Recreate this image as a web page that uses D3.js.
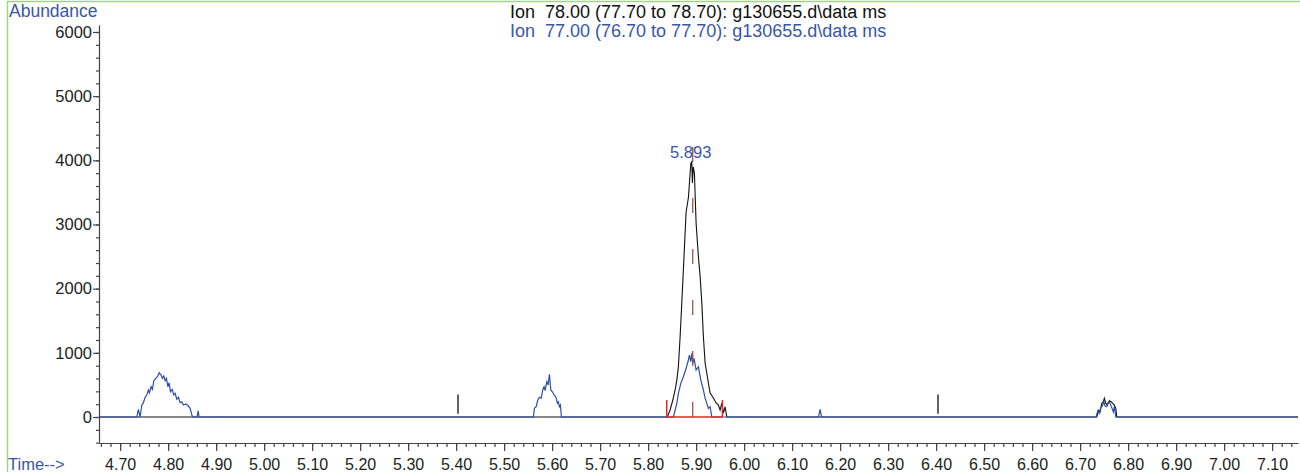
<!DOCTYPE html>
<html lang="en">
<head>
    <meta charset="UTF-8">
    <title>Ion chromatogram</title>
    <script src="https://d3js.org/d3.v7.min.js"></script>
    <style>
        body { margin: 0; background: #fff; }
        svg { font-family: "Liberation Sans", Arial, sans-serif; }
        .axis path, .axis line { stroke: #444; stroke-width: 1.2; }
        .axis text { fill: #222; }
    </style>
</head>
<body>
    <div id="chart"></div>
    <script>
        // Ion 78 (black trace)
        const ion78Time = [4.656, 5.840, 5.8458, 5.8515, 5.8563, 5.8598, 5.8631, 5.8667, 5.8702, 5.8735,
            5.8792, 5.8840, 5.8890, 5.8910, 5.8923, 5.8940, 5.8965, 5.9000, 5.9048, 5.9083,
            5.9119, 5.9152, 5.9188, 5.9256, 5.9292, 5.9360, 5.9417, 5.9465, 5.9500, 5.9535,
            5.9569, 5.9604, 5.9640,
            6.7348, 6.7381, 6.7417, 6.7452, 6.7485, 6.7506, 6.7535, 6.7569, 6.7610, 6.7646,
            6.7681, 6.7715, 6.7744, 6.7765, 7.154];
        const ion78Abund = [0, 0, 109, 265, 421, 576, 784, 1251, 1776, 2290,
            3199, 3420, 3953, 3978, 3646, 3900, 3801, 3022, 2498, 2200,
            1776, 1251, 841, 530, 374, 296, 218, 187, 109, 218,
            62, 160, 0,
            0, 104, 78, 213, 238, 291, 213, 187, 254, 238,
            213, 187, 135, 0, 0];

        // Ion 77 (blue trace)
        const ion77Time = [4.656,
            4.7348, 4.7381, 4.7417, 4.7452, 4.7485, 4.7521, 4.7556, 4.7590, 4.7610, 4.7646,
            4.7673, 4.7702, 4.7744, 4.7777, 4.7813, 4.7833, 4.7854, 4.7881, 4.7910, 4.7938,
            4.7965, 4.7994, 4.8021, 4.8048, 4.8083, 4.8119, 4.8146, 4.8181, 4.8215, 4.8250,
            4.8285, 4.8319, 4.8369, 4.8423, 4.8458, 4.8494, 4.8515, 4.8604, 4.8625, 4.8646,
            5.5610, 5.5631, 5.5667, 5.5702, 5.5735, 5.5771, 5.5806, 5.5833, 5.5854, 5.5890,
            5.5917, 5.5944, 5.5973, 5.6006, 5.6042, 5.6077, 5.6110, 5.6131, 5.6152, 5.6173, 5.6194,
            5.8527, 5.8598, 5.8631, 5.8681, 5.8735, 5.8792, 5.8840, 5.8860, 5.8890, 5.8910,
            5.8931, 5.8958, 5.9000, 5.9048, 5.9098, 5.9152, 5.9188, 5.9223, 5.9256, 5.9292, 5.9327,
            6.1550, 6.1583, 6.1615,
            6.7333, 6.7369, 6.7396, 6.7431, 6.7465, 6.7494, 6.7521, 6.7556, 6.7590, 6.7625,
            6.7660, 6.7694, 6.7715, 6.7744,
            7.154];
        const ion77Abund = [0,
            0, 120, 0, 187, 223, 307, 343, 421, 379, 472,
            431, 566, 603, 628, 690, 670, 654, 603, 639, 566,
            603, 472, 534, 394, 431, 343, 369, 276, 307, 223,
            238, 187, 202, 171, 135, 31, 0, 0, 98, 0,
            0, 135, 160, 265, 307, 291, 421, 472, 410, 550,
            499, 665, 421, 394, 343, 316, 213, 238, 160, 187, 0,
            0, 213, 369, 525, 628, 759, 888, 966, 862, 992,
            836, 914, 732, 784, 576, 421, 291, 213, 135, 160, 0,
            0, 120, 0,
            0, 94, 53, 146, 171, 238, 171, 160, 238, 213,
            146, 78, 171, 0,
            0];

        // short black event marks
        const eventTimes = [5.404, 6.404];
        const eventRange = [50, 350];

        // integration of the 5.893 peak
        const peakTime = 5.893;
        const peakLabel = "5.893";
        const integStart = 5.8388;
        const integEnd = 5.9548;
        const integTickHeight = 265;
        const peakLineTop = 4270;

        const yMajor = [0, 1000, 2000, 3000, 4000, 5000, 6000];
        const xMajor = d3.range(0, 25).map(i => +(4.70 + i * 0.1).toFixed(2));
        const xMinor = d3.range(0, 125).map(i => +(4.66 + i * 0.02).toFixed(2));
        const yMinor = d3.range(-400, 6001, 200);

        const titles = [
            { text: "Ion  78.00 (77.70 to 78.70): g130655.d\\data ms", color: "#111" },
            { text: "Ion  77.00 (76.70 to 77.70): g130655.d\\data ms", color: "#3a56a8" }
        ];

        const W = 1300, H = 472;
        const blue = "#2f4ea6";

        const svg = d3.select("#chart")
            .append("svg")
            .attr("width", W)
            .attr("height", H);

        // frame
        svg.append("path")
            .attr("d", "M7.5,472V1.5H1300")
            .attr("fill", "none")
            .attr("stroke", "#a3d486")
            .attr("stroke-width", 1.5);

        const x = d3.scaleLinear().domain([4.656, 7.154]).range([99, 1298]);
        const y = d3.scaleLinear().domain([-405, 6109]).range([443, 25]);

        // x axis
        svg.append("g")
            .attr("class", "axis")
            .attr("transform", "translate(0,443)")
            .call(d3.axisBottom(x).tickValues(xMinor).tickSize(4).tickFormat("").tickSizeOuter(0));
        const xAxis = svg.append("g")
            .attr("class", "axis")
            .attr("transform", "translate(0,443)")
            .call(d3.axisBottom(x).tickValues(xMajor).tickSize(8).tickSizeOuter(0)
                .tickFormat(d3.format(".2f")));
        xAxis.select(".domain").remove();
        xAxis.selectAll("text")
            .attr("y", 27)
            .attr("dy", 0)
            .style("font-size", "16px");

        // y axis
        svg.append("g")
            .attr("class", "axis")
            .attr("transform", "translate(99,0)")
            .call(d3.axisLeft(y).tickValues(yMinor).tickSize(3).tickFormat("").tickSizeOuter(0));
        const yAxis = svg.append("g")
            .attr("class", "axis")
            .attr("transform", "translate(99,0)")
            .call(d3.axisLeft(y).tickValues(yMajor).tickSize(6).tickSizeOuter(0)
                .tickFormat(d3.format("d")));
        yAxis.select(".domain").remove();
        yAxis.selectAll("text")
            .attr("x", -7)
            .style("font-size", "16.5px");

        // axis titles
        svg.append("text")
            .attr("x", 9).attr("y", 17)
            .attr("fill", "#3a56a8")
            .style("font-size", "17.5px")
            .text("Abundance");
        svg.append("text")
            .attr("x", 8).attr("y", 470)
            .attr("fill", "#3a56a8")
            .style("font-size", "16.5px")
            .text("Time-->");

        // legend titles
        svg.selectAll(".title")
            .data(titles)
            .enter()
            .append("text")
            .attr("class", "title")
            .attr("x", 510)
            .attr("y", (d, i) => 18 + i * 19)
            .attr("fill", d => d.color)
            .style("font-size", "18px")
            .style("white-space", "pre")
            .attr("xml:space", "preserve")
            .text(d => d.text);

        const line = d3.line()
            .x(d => x(d[0]))
            .y(d => y(d[1]));

        svg.append("path")
            .datum(d3.zip(ion78Time, ion78Abund))
            .attr("fill", "none")
            .attr("stroke", "#111")
            .attr("stroke-width", 1.1)
            .attr("d", line);

        svg.append("path")
            .datum(d3.zip(ion77Time, ion77Abund))
            .attr("fill", "none")
            .attr("stroke", blue)
            .attr("stroke-width", 1.2)
            .attr("d", line);

        // event marks
        svg.selectAll(".event")
            .data(eventTimes)
            .enter()
            .append("line")
            .attr("x1", d => x(d)).attr("x2", d => x(d))
            .attr("y1", y(eventRange[0])).attr("y2", y(eventRange[1]))
            .attr("stroke", "#111")
            .attr("stroke-width", 1.3);

        // integration baseline and ticks
        svg.append("line")
            .attr("x1", x(integStart)).attr("x2", x(integEnd))
            .attr("y1", y(0)).attr("y2", y(0))
            .attr("stroke", "#e8231f")
            .attr("stroke-width", 1.3);
        svg.selectAll(".integ")
            .data([integStart, integEnd])
            .enter()
            .append("line")
            .attr("x1", d => x(d)).attr("x2", d => x(d))
            .attr("y1", y(0)).attr("y2", y(integTickHeight))
            .attr("stroke", "#e8231f")
            .attr("stroke-width", 1.5);

        // retention time marker
        svg.append("line")
            .attr("x1", x(peakTime)).attr("x2", x(peakTime))
            .attr("y1", y(0)).attr("y2", y(peakLineTop))
            .attr("stroke", "#9a5552")
            .attr("stroke-width", 1.3)
            .attr("stroke-dasharray", "15,36");

        svg.append("text")
            .attr("x", x(peakTime) - 2)
            .attr("y", 158)
            .attr("text-anchor", "middle")
            .attr("fill", "#3a56a8")
            .style("font-size", "16.5px")
            .text(peakLabel);
    </script>
</body>
</html>
